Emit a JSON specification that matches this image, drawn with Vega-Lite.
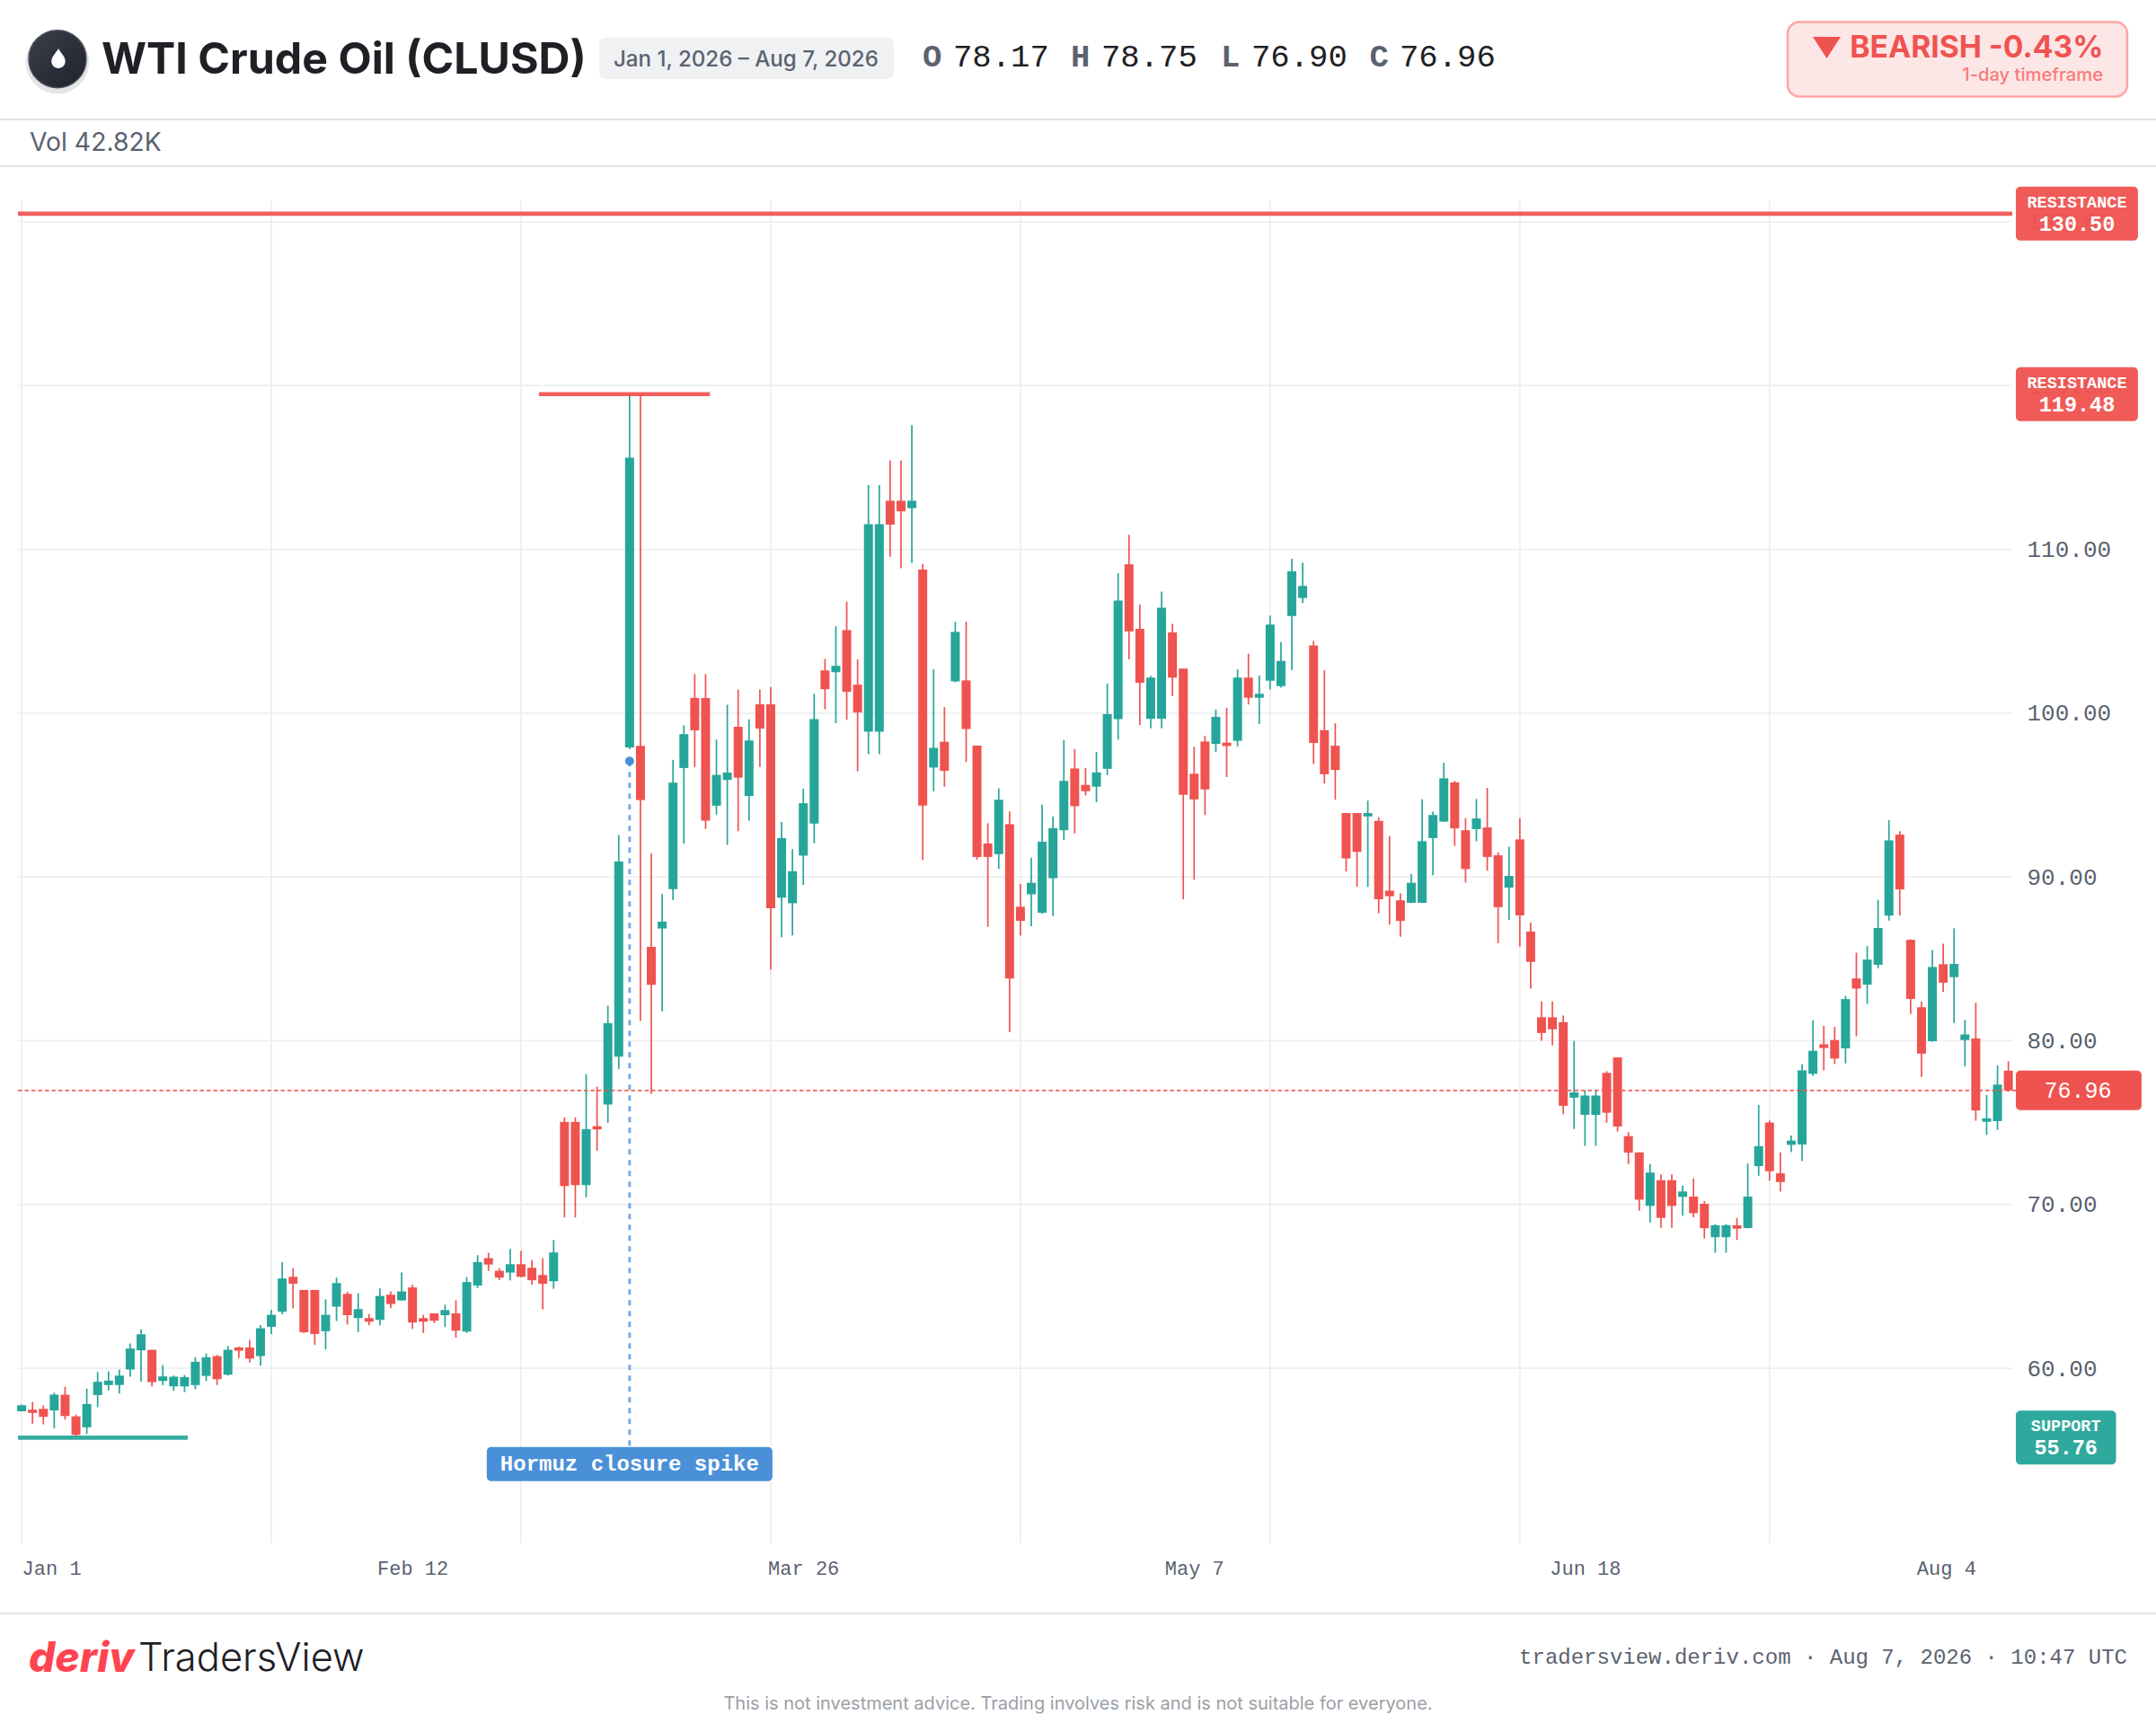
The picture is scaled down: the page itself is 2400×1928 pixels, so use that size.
{"$schema":"https://vega.github.io/schema/vega-lite/v6.json","width":2400,"height":1928,"autosize":{"type":"none"},"padding":0,"background":"#ffffff","config":{"view":{"stroke":null}},
"datasets":{
"candles":[
{"index":0,"open":57.37,"high":57.78,"low":57.37,"close":57.74},
{"index":1,"open":57.47,"high":57.94,"low":56.61,"close":57.27},
{"index":2,"open":57.52,"high":57.72,"low":56.57,"close":57.03},
{"index":3,"open":57.43,"high":58.51,"low":56.33,"close":58.38},
{"index":4,"open":58.38,"high":58.87,"low":56.86,"close":57.08},
{"index":5,"open":57.06,"high":57.17,"low":55.76,"close":55.93},
{"index":6,"open":56.39,"high":58.75,"low":55.99,"close":57.81},
{"index":7,"open":58.36,"high":59.77,"low":57.63,"close":59.17},
{"index":8,"open":58.97,"high":59.81,"low":58.65,"close":59.24},
{"index":9,"open":58.97,"high":59.92,"low":58.45,"close":59.55},
{"index":10,"open":59.92,"high":61.51,"low":59.48,"close":61.2},
{"index":11,"open":61.09,"high":62.37,"low":59.18,"close":62.07},
{"index":12,"open":61.12,"high":61.12,"low":58.89,"close":59.15},
{"index":13,"open":59.22,"high":60.19,"low":58.97,"close":59.5},
{"index":14,"open":58.89,"high":59.55,"low":58.62,"close":59.48},
{"index":15,"open":58.89,"high":59.59,"low":58.54,"close":59.46},
{"index":16,"open":58.97,"high":60.68,"low":58.71,"close":60.39},
{"index":17,"open":59.53,"high":60.9,"low":59.22,"close":60.67},
{"index":18,"open":60.74,"high":60.81,"low":58.97,"close":59.33},
{"index":19,"open":59.61,"high":61.36,"low":59.55,"close":61.12},
{"index":20,"open":61.27,"high":61.32,"low":60.61,"close":61.07},
{"index":21,"open":61.27,"high":61.73,"low":60.34,"close":60.59},
{"index":22,"open":60.74,"high":62.64,"low":60.15,"close":62.44},
{"index":23,"open":62.53,"high":63.57,"low":62.09,"close":63.26},
{"index":24,"open":63.45,"high":66.48,"low":63.3,"close":65.48},
{"index":25,"open":65.58,"high":66.11,"low":63.65,"close":65.16},
{"index":26,"open":64.78,"high":64.78,"low":62.13,"close":62.2},
{"index":27,"open":64.78,"high":64.78,"low":61.42,"close":62.09},
{"index":28,"open":62.26,"high":64.21,"low":61.14,"close":63.26},
{"index":29,"open":63.76,"high":65.53,"low":62.88,"close":65.2},
{"index":30,"open":64.54,"high":64.67,"low":62.66,"close":63.24},
{"index":31,"open":63.06,"high":64.58,"low":62.2,"close":63.61},
{"index":32,"open":63.06,"high":63.3,"low":62.62,"close":62.84},
{"index":33,"open":62.95,"high":64.87,"low":62.62,"close":64.41},
{"index":34,"open":64.49,"high":64.69,"low":63.67,"close":63.92},
{"index":35,"open":64.14,"high":65.84,"low":64.12,"close":64.69},
{"index":36,"open":64.93,"high":65.09,"low":62.4,"close":62.79},
{"index":37,"open":63.06,"high":63.26,"low":62.15,"close":62.84},
{"index":38,"open":63.35,"high":63.35,"low":62.75,"close":62.9},
{"index":39,"open":63.24,"high":63.88,"low":62.51,"close":63.55},
{"index":40,"open":63.35,"high":64.14,"low":61.87,"close":62.29},
{"index":41,"open":62.24,"high":65.57,"low":62.15,"close":65.26},
{"index":42,"open":65.05,"high":66.9,"low":64.89,"close":66.48},
{"index":43,"open":66.72,"high":67.05,"low":65.95,"close":66.33},
{"index":44,"open":65.95,"high":66.11,"low":65.38,"close":65.53},
{"index":45,"open":65.84,"high":67.29,"low":65.37,"close":66.35},
{"index":46,"open":66.35,"high":67.16,"low":65.55,"close":65.58},
{"index":47,"open":66.13,"high":66.61,"low":65.11,"close":65.37},
{"index":48,"open":65.69,"high":66.72,"low":63.59,"close":65.16},
{"index":49,"open":65.31,"high":67.83,"low":64.85,"close":67.07},
{"index":50,"open":75.04,"high":75.31,"low":69.2,"close":71.12},
{"index":51,"open":75.04,"high":75.31,"low":69.2,"close":71.18},
{"index":52,"open":71.18,"high":77.96,"low":70.43,"close":74.6},
{"index":53,"open":74.78,"high":77.19,"low":73.28,"close":74.58},
{"index":54,"open":76.1,"high":82.13,"low":74.98,"close":81.06},
{"index":55,"open":79.02,"high":92.56,"low":78.26,"close":90.94},
{"index":56,"open":97.91,"high":119.48,"low":97.8,"close":115.6},
{"index":57,"open":98.0,"high":119.48,"low":81.2,"close":94.69},
{"index":58,"open":85.73,"high":91.42,"low":76.75,"close":83.41},
{"index":59,"open":86.85,"high":88.95,"low":81.79,"close":87.27},
{"index":60,"open":89.26,"high":97.15,"low":88.59,"close":95.75},
{"index":61,"open":96.65,"high":99.25,"low":92.03,"close":98.72},
{"index":62,"open":100.93,"high":102.39,"low":96.71,"close":98.95},
{"index":63,"open":100.93,"high":102.39,"low":92.93,"close":93.43},
{"index":64,"open":94.35,"high":98.39,"low":93.8,"close":96.23},
{"index":65,"open":95.92,"high":100.51,"low":91.95,"close":96.37},
{"index":66,"open":99.17,"high":101.44,"low":92.79,"close":96.06},
{"index":67,"open":94.94,"high":99.62,"low":93.43,"close":98.33},
{"index":68,"open":100.54,"high":101.44,"low":96.71,"close":99.06},
{"index":69,"open":100.54,"high":101.6,"low":84.33,"close":88.09},
{"index":70,"open":88.73,"high":93.35,"low":86.32,"close":92.37},
{"index":71,"open":88.39,"high":91.7,"low":86.43,"close":90.35},
{"index":72,"open":91.3,"high":95.39,"low":89.51,"close":94.5},
{"index":73,"open":93.26,"high":101.18,"low":92.06,"close":99.64},
{"index":74,"open":102.61,"high":103.31,"low":100.23,"close":101.46},
{"index":75,"open":102.5,"high":105.3,"low":99.39,"close":102.89},
{"index":76,"open":105.07,"high":106.81,"low":99.59,"close":101.3},
{"index":77,"open":101.74,"high":103.28,"low":96.45,"close":100.04},
{"index":78,"open":98.86,"high":113.92,"low":97.49,"close":111.54},
{"index":79,"open":98.86,"high":113.92,"low":97.49,"close":111.54},
{"index":80,"open":112.97,"high":115.43,"low":109.55,"close":111.51},
{"index":81,"open":112.97,"high":115.43,"low":108.85,"close":112.32},
{"index":82,"open":112.52,"high":117.59,"low":109.16,"close":112.97},
{"index":83,"open":108.77,"high":109.11,"low":91.03,"close":94.35},
{"index":84,"open":96.68,"high":102.67,"low":95.22,"close":97.88},
{"index":85,"open":98.25,"high":100.37,"low":95.5,"close":96.48},
{"index":86,"open":101.94,"high":105.58,"low":101.88,"close":104.96},
{"index":87,"open":102.0,"high":105.58,"low":97.01,"close":99.03},
{"index":88,"open":98.01,"high":98.01,"low":91.05,"close":91.22},
{"index":89,"open":92.04,"high":93.28,"low":86.95,"close":91.22},
{"index":90,"open":91.39,"high":95.41,"low":90.48,"close":94.71},
{"index":91,"open":93.22,"high":94.0,"low":80.52,"close":83.8},
{"index":92,"open":88.18,"high":89.57,"low":86.43,"close":87.32},
{"index":93,"open":88.94,"high":91.18,"low":86.99,"close":89.64},
{"index":94,"open":87.81,"high":94.41,"low":87.75,"close":92.15},
{"index":95,"open":89.92,"high":93.69,"low":87.62,"close":92.98},
{"index":96,"open":92.85,"high":98.36,"low":92.26,"close":95.86},
{"index":97,"open":96.62,"high":97.81,"low":92.65,"close":94.32},
{"index":98,"open":95.62,"high":96.64,"low":94.97,"close":95.23},
{"index":99,"open":95.51,"high":97.64,"low":94.56,"close":96.38},
{"index":100,"open":96.6,"high":101.81,"low":96.21,"close":99.94},
{"index":101,"open":99.64,"high":108.55,"low":98.38,"close":106.88},
{"index":102,"open":109.09,"high":110.89,"low":103.28,"close":104.99},
{"index":103,"open":105.15,"high":106.62,"low":99.27,"close":101.85},
{"index":104,"open":99.66,"high":102.28,"low":99.07,"close":102.17},
{"index":105,"open":99.66,"high":107.42,"low":99.07,"close":106.43},
{"index":106,"open":104.93,"high":105.45,"low":101.05,"close":102.17},
{"index":107,"open":102.72,"high":102.72,"low":88.64,"close":95.02},
{"index":108,"open":96.3,"high":97.94,"low":89.83,"close":94.73},
{"index":109,"open":98.27,"high":98.62,"low":93.78,"close":95.34},
{"index":110,"open":98.12,"high":100.22,"low":97.62,"close":99.77},
{"index":111,"open":98.2,"high":100.33,"low":96.1,"close":97.99},
{"index":112,"open":98.31,"high":102.67,"low":97.97,"close":102.17},
{"index":113,"open":102.17,"high":103.63,"low":100.53,"close":100.94},
{"index":114,"open":100.94,"high":102.3,"low":99.33,"close":101.18},
{"index":115,"open":101.98,"high":105.95,"low":101.44,"close":105.41},
{"index":116,"open":101.65,"high":104.34,"low":101.55,"close":103.19},
{"index":117,"open":105.93,"high":109.42,"low":102.63,"close":108.66},
{"index":118,"open":107.03,"high":109.2,"low":106.73,"close":107.77},
{"index":119,"open":104.13,"high":104.41,"low":96.9,"close":98.18},
{"index":120,"open":98.96,"high":102.61,"low":95.71,"close":96.27},
{"index":121,"open":98.01,"high":99.38,"low":94.71,"close":96.53},
{"index":122,"open":93.9,"high":93.9,"low":90.33,"close":91.13},
{"index":123,"open":93.9,"high":93.9,"low":89.39,"close":91.53},
{"index":124,"open":93.69,"high":94.66,"low":89.39,"close":93.9},
{"index":125,"open":93.42,"high":93.65,"low":87.77,"close":88.63},
{"index":126,"open":89.16,"high":92.5,"low":87.08,"close":88.82},
{"index":127,"open":88.57,"high":88.99,"low":86.35,"close":87.31},
{"index":128,"open":88.42,"high":90.17,"low":88.4,"close":89.64},
{"index":129,"open":88.42,"high":94.74,"low":88.4,"close":92.18},
{"index":130,"open":92.37,"high":93.99,"low":90.1,"close":93.78},
{"index":131,"open":93.38,"high":96.97,"low":93.36,"close":96.02},
{"index":132,"open":95.77,"high":95.86,"low":91.89,"close":92.96},
{"index":133,"open":92.85,"high":93.59,"low":89.66,"close":90.48},
{"index":134,"open":92.92,"high":94.76,"low":92.18,"close":93.57},
{"index":135,"open":93.02,"high":95.44,"low":90.38,"close":91.22},
{"index":136,"open":91.32,"high":91.51,"low":85.95,"close":88.15},
{"index":137,"open":89.35,"high":91.85,"low":87.37,"close":90.06},
{"index":138,"open":92.29,"high":93.59,"low":85.74,"close":87.65},
{"index":139,"open":86.66,"high":87.21,"low":83.18,"close":84.81},
{"index":140,"open":81.43,"high":82.4,"low":79.99,"close":80.47},
{"index":141,"open":81.43,"high":82.4,"low":79.71,"close":80.7},
{"index":142,"open":81.14,"high":81.54,"low":75.51,"close":76.02},
{"index":143,"open":76.52,"high":79.99,"low":74.61,"close":76.84},
{"index":144,"open":75.47,"high":76.96,"low":73.58,"close":76.65},
{"index":145,"open":75.47,"high":76.96,"low":73.58,"close":76.65},
{"index":146,"open":78.03,"high":78.14,"low":74.99,"close":75.6},
{"index":147,"open":78.98,"high":78.98,"low":74.44,"close":74.76},
{"index":148,"open":74.17,"high":74.42,"low":72.47,"close":73.16},
{"index":149,"open":73.18,"high":73.18,"low":69.62,"close":70.29},
{"index":150,"open":69.91,"high":72.47,"low":68.9,"close":71.95},
{"index":151,"open":71.48,"high":71.84,"low":68.57,"close":69.18},
{"index":152,"open":71.48,"high":71.84,"low":68.57,"close":69.91},
{"index":153,"open":70.46,"high":71.15,"low":69.32,"close":70.79},
{"index":154,"open":70.48,"high":71.59,"low":69.22,"close":69.47},
{"index":155,"open":70.04,"high":70.2,"low":67.92,"close":68.55},
{"index":156,"open":68.0,"high":68.8,"low":67.05,"close":68.73},
{"index":157,"open":68.0,"high":68.8,"low":67.05,"close":68.73},
{"index":158,"open":68.73,"high":69.18,"low":67.83,"close":68.52},
{"index":159,"open":68.56,"high":72.5,"low":68.54,"close":70.48},
{"index":160,"open":72.34,"high":76.07,"low":71.75,"close":73.56},
{"index":161,"open":75.0,"high":75.13,"low":71.45,"close":72.03},
{"index":162,"open":71.9,"high":73.17,"low":70.79,"close":71.37},
{"index":163,"open":73.64,"high":74.21,"low":73.2,"close":73.9},
{"index":164,"open":73.66,"high":78.57,"low":72.64,"close":78.19},
{"index":165,"open":77.98,"high":81.25,"low":77.85,"close":79.38},
{"index":166,"open":79.78,"high":80.91,"low":78.19,"close":79.55},
{"index":167,"open":80.04,"high":80.84,"low":78.57,"close":78.91},
{"index":168,"open":79.53,"high":82.74,"low":78.61,"close":82.54},
{"index":169,"open":83.8,"high":85.37,"low":80.27,"close":83.18},
{"index":170,"open":83.42,"high":85.78,"low":82.25,"close":84.95},
{"index":171,"open":84.63,"high":88.6,"low":84.42,"close":86.88},
{"index":172,"open":87.64,"high":93.47,"low":87.33,"close":92.23},
{"index":173,"open":92.58,"high":92.79,"low":87.65,"close":89.24},
{"index":174,"open":86.16,"high":86.18,"low":81.63,"close":82.55},
{"index":175,"open":82.04,"high":82.4,"low":77.79,"close":79.21},
{"index":176,"open":79.97,"high":85.54,"low":79.93,"close":84.5},
{"index":177,"open":84.67,"high":85.92,"low":82.97,"close":83.54},
{"index":178,"open":83.88,"high":86.86,"low":81.08,"close":84.69},
{"index":179,"open":80.04,"high":81.27,"low":78.44,"close":80.38},
{"index":180,"open":80.14,"high":82.31,"low":75.11,"close":75.74},
{"index":181,"open":75.05,"high":76.68,"low":74.24,"close":75.26},
{"index":182,"open":75.09,"high":78.49,"low":74.56,"close":77.32},
{"index":183,"open":78.17,"high":78.75,"low":76.9,"close":76.96}
],
"levels":[
{"price":130.5,"kind":"RESISTANCE","label":"130.50","from":-0.34,"to":183.36},
{"price":119.48,"kind":"RESISTANCE","label":"119.48","from":47.65,"to":63.4},
{"price":55.76,"kind":"SUPPORT","label":"55.76","from":-0.34,"to":15.3}
],
"last":[{"price":76.96}],
"event":[{"index":56,"price":97.07,"labelPrice":54.14,"linePrice":55.2,"label":"Hormuz closure spike"}]
},
"layer":[
{"data":{"values":[{"price":60},{"price":70},{"price":80},{"price":90},{"price":100},{"price":110},{"price":120},{"price":130}]},
"mark":{"type":"rule","stroke":"#eeeff1","strokeWidth":1.8},
"encoding":{
"y":{"field":"price","type":"quantitative","scale":{"domain":[37.786,143.546],"nice":false,"zero":false,"padding":0},
"axis":{"orient":"right","offset":-144,"title":null,"domain":false,"ticks":false,"grid":false,"values":[60,70,80,90,100,110,120,130],"format":".2f","labelFont":"Liberation Mono","labelFontSize":26,"labelColor":"#5b6270","labelPadding":0,"labelAlign":"left","labelBaseline":"middle","labelOverlap":false}},
"x":{"datum":-0.34,"type":"quantitative","scale":{"domain":[-1.994,196.6],"nice":false,"zero":false,"padding":0},
"axis":{"orient":"bottom","offset":-176,"title":null,"domain":false,"ticks":false,"grid":false,"values":[0,36,72,108,144,180],"labelExpr":"['Jan 1','Feb 12','Mar 26','May 7','Jun 18','Aug 4'][datum.value/36]","labelFont":"Liberation Mono","labelFontSize":22,"labelColor":"#5b6270","labelPadding":0,"labelBaseline":"alphabetic","labelOverlap":false,"labelFlush":false,"labelAlign":{"condition":[{"test":"datum.value==0","value":"left"},{"test":"datum.value==180","value":"right"}],"value":"center"}}},
"x2":{"datum":183.36}}},
{"data":{"values":[{"index":0},{"index":23},{"index":46},{"index":69},{"index":92},{"index":115},{"index":138},{"index":161}]},
"mark":{"type":"rule","stroke":"#eeeff1","strokeWidth":1.8},
"encoding":{"x":{"field":"index","type":"quantitative"},"y":{"datum":131.3,"type":"quantitative"},"y2":{"datum":49.3}}},
{"data":{"name":"candles"},"mark":{"type":"rule","strokeWidth":1.7},
"encoding":{"x":{"field":"index","type":"quantitative"},"y":{"field":"low","type":"quantitative"},"y2":{"field":"high"},
"color":{"condition":{"test":"datum.close>=datum.open","value":"#26a69a"},"value":"#ef5350"}}},
{"data":{"name":"candles"},"mark":{"type":"bar","size":10},
"encoding":{"x":{"field":"index","type":"quantitative"},"y":{"field":"open","type":"quantitative"},"y2":{"field":"close"},
"color":{"condition":{"test":"datum.close>=datum.open","value":"#26a69a"},"value":"#ef5350"}}},
{"data":{"name":"levels"},"mark":{"type":"rule","strokeWidth":4.6,"opacity":0.92},
"encoding":{"x":{"field":"from","type":"quantitative"},"x2":{"field":"to"},"y":{"field":"price","type":"quantitative"},
"color":{"field":"kind","type":"nominal","scale":{"domain":["RESISTANCE","SUPPORT"],"range":["#ef5350","#26a69a"]},"legend":null}}},
{"data":{"name":"last"},"mark":{"type":"rule","stroke":"#ef5350","strokeWidth":1.6,"strokeDash":[4.5,3],"opacity":0.9},
"encoding":{"x":{"datum":-0.34,"type":"quantitative"},"x2":{"datum":183.69},"y":{"field":"price","type":"quantitative"}}},
{"data":{"name":"event"},"mark":{"type":"rule","stroke":"#4a90d9","strokeWidth":3,"strokeDash":[6,6],"opacity":0.75},
"encoding":{"x":{"field":"index","type":"quantitative"},"y":{"field":"price","type":"quantitative"},"y2":{"field":"linePrice"}}},
{"data":{"name":"event"},"mark":{"type":"point","filled":true,"shape":"circle","size":100,"color":"#4a90d9","opacity":1},
"encoding":{"x":{"field":"index","type":"quantitative"},"y":{"field":"price","type":"quantitative"}}},
{"data":{"name":"event"},"mark":{"type":"rect","width":318,"height":38,"cornerRadius":5,"fill":"#4a90d9"},
"encoding":{"x":{"field":"index","type":"quantitative"},"y":{"field":"labelPrice","type":"quantitative"}}},
{"data":{"name":"event"},"mark":{"type":"text","font":"Liberation Mono","fontWeight":"bold","fontSize":24,"fill":"#ffffff","align":"center","baseline":"middle"},
"encoding":{"x":{"field":"index","type":"quantitative"},"y":{"field":"labelPrice","type":"quantitative"},"text":{"field":"label"}}},
{"data":{"name":"levels"},"transform":[{"filter":"datum.kind=='RESISTANCE'"}],"mark":{"type":"rect","height":60,"cornerRadius":5,"fill":"#ef5350","opacity":0.96},
"encoding":{"x":{"datum":183.69,"type":"quantitative"},"x2":{"datum":194.94},"y":{"field":"price","type":"quantitative"}}},
{"data":{"name":"levels"},"transform":[{"filter":"datum.kind=='SUPPORT'"}],"mark":{"type":"rect","height":60,"cornerRadius":5,"fill":"#26a69a","opacity":0.96},
"encoding":{"x":{"datum":183.69,"type":"quantitative"},"x2":{"datum":192.92},"y":{"field":"price","type":"quantitative"}}},
{"data":{"name":"levels"},"transform":[{"filter":"datum.kind=='RESISTANCE'"}],"mark":{"type":"text","font":"Liberation Mono","fontWeight":"bold","fontSize":18.5,"fill":"#ffffff","dy":-12.5,"align":"center","baseline":"middle"},
"encoding":{"x":{"datum":189.32,"type":"quantitative"},"y":{"field":"price","type":"quantitative"},"text":{"field":"kind"}}},
{"data":{"name":"levels"},"transform":[{"filter":"datum.kind=='RESISTANCE'"}],"mark":{"type":"text","font":"Liberation Mono","fontWeight":"bold","fontSize":23.5,"fill":"#ffffff","dy":12,"align":"center","baseline":"middle"},
"encoding":{"x":{"datum":189.32,"type":"quantitative"},"y":{"field":"price","type":"quantitative"},"text":{"field":"label"}}},
{"data":{"name":"levels"},"transform":[{"filter":"datum.kind=='SUPPORT'"}],"mark":{"type":"text","font":"Liberation Mono","fontWeight":"bold","fontSize":18.5,"fill":"#ffffff","dy":-13,"align":"center","baseline":"middle"},
"encoding":{"x":{"datum":188.3,"type":"quantitative"},"y":{"field":"price","type":"quantitative"},"text":{"field":"kind"}}},
{"data":{"name":"levels"},"transform":[{"filter":"datum.kind=='SUPPORT'"}],"mark":{"type":"text","font":"Liberation Mono","fontWeight":"bold","fontSize":23.5,"fill":"#ffffff","dy":11.5,"align":"center","baseline":"middle"},
"encoding":{"x":{"datum":188.3,"type":"quantitative"},"y":{"field":"price","type":"quantitative"},"text":{"field":"label"}}},
{"data":{"name":"last"},"mark":{"type":"rect","height":44,"cornerRadius":5,"fill":"#ef5350"},
"encoding":{"x":{"datum":183.69,"type":"quantitative"},"x2":{"datum":195.27},"y":{"field":"price","type":"quantitative"}}},
{"data":{"name":"last"},"mark":{"type":"text","font":"Liberation Mono","fontSize":25,"fill":"#ffffff","align":"center","baseline":"middle"},
"encoding":{"x":{"datum":189.4,"type":"quantitative"},"y":{"field":"price","type":"quantitative"},"text":{"field":"price","type":"quantitative","format":".2f"}}},
{"data":{"values":[{"text":"header"}]},"mark":{"type":"rule","stroke":"#e2e3e8","strokeWidth":2.2},"encoding":{"x":{"value":0},"x2":{"value":2400},"y":{"value":133}}},
{"data":{"values":[{"text":"vol"}]},"mark":{"type":"rule","stroke":"#e2e3e8","strokeWidth":2.2},"encoding":{"x":{"value":0},"x2":{"value":2400},"y":{"value":185}}},
{"data":{"values":[{"text":"footer"}]},"mark":{"type":"rule","stroke":"#e2e3e8","strokeWidth":2.2},"encoding":{"x":{"value":0},"x2":{"value":2400},"y":{"value":1796}}},
{"data":{"values":[{"text":"icon"}]},"mark":{"type":"point","filled":true,"shape":"circle","size":5000,"fill":"#000000","opacity":0.1,"stroke":null},"encoding":{"x":{"value":64},"y":{"value":69}}},
{"data":{"values":[{"text":"icon"}]},"mark":{"type":"point","filled":true,"shape":"circle","size":4096,"opacity":1,"fill":{"gradient":"linear","x1":0,"y1":0,"x2":1,"y2":1,"stops":[{"offset":0,"color":"#3a404c"},{"offset":1,"color":"#1e222a"}]},"stroke":"#4a505c","strokeWidth":1.5},"encoding":{"x":{"value":64},"y":{"value":65.7}}},
{"data":{"values":[{"text":"drop"}]},"mark":{"type":"point","filled":true,"shape":"M0,-1C0.2,-0.6 0.7,-0.2 0.7,0.3A0.7,0.7 0 1 1 -0.7,0.3C-0.7,-0.2 -0.2,-0.6 0,-1Z","size":484,"fill":"#ffffff","opacity":1},"encoding":{"x":{"value":65},"y":{"value":65}}},
{"data":{"values":[{"text":"WTI Crude Oil (CLUSD)"}]},"mark":{"type":"text","font":"Inter","fontWeight":700,"fontSize":48.3,"fill":"#1e2025","align":"left","baseline":"alphabetic"},"encoding":{"x":{"value":113},"y":{"value":81.7},"text":{"field":"text"}}},
{"data":{"values":[{"text":"chip"}]},"mark":{"type":"rect","fill":"#f0f1f3","cornerRadius":8},"encoding":{"x":{"value":667},"x2":{"value":995},"y":{"value":42},"y2":{"value":88}}},
{"data":{"values":[{"text":"Jan 1, 2026 – Aug 7, 2026"}]},"mark":{"type":"text","font":"Inter","fontWeight":500,"fontSize":24.1,"fill":"#5b6270","align":"left","baseline":"alphabetic"},"encoding":{"x":{"value":683},"y":{"value":73.5},"text":{"field":"text"}}},
{"data":{"values":[{"text":"O"}]},"mark":{"type":"text","font":"Liberation Mono","fontWeight":"bold","fontSize":35.6,"fill":"#5b6270","align":"left","baseline":"alphabetic"},"encoding":{"x":{"value":1027},"y":{"value":74},"text":{"field":"text"}}},
{"data":{"values":[{"text":"H"}]},"mark":{"type":"text","font":"Liberation Mono","fontWeight":"bold","fontSize":35.6,"fill":"#5b6270","align":"left","baseline":"alphabetic"},"encoding":{"x":{"value":1192},"y":{"value":74},"text":{"field":"text"}}},
{"data":{"values":[{"text":"L"}]},"mark":{"type":"text","font":"Liberation Mono","fontWeight":"bold","fontSize":35.6,"fill":"#5b6270","align":"left","baseline":"alphabetic"},"encoding":{"x":{"value":1359},"y":{"value":74},"text":{"field":"text"}}},
{"data":{"values":[{"text":"C"}]},"mark":{"type":"text","font":"Liberation Mono","fontWeight":"bold","fontSize":35.6,"fill":"#5b6270","align":"left","baseline":"alphabetic"},"encoding":{"x":{"value":1524.5},"y":{"value":74},"text":{"field":"text"}}},
{"data":{"values":[{"text":"78.17"}]},"mark":{"type":"text","font":"Liberation Mono","fontSize":35.6,"fill":"#1e2025","align":"left","baseline":"alphabetic"},"encoding":{"x":{"value":1061},"y":{"value":74},"text":{"field":"text"}}},
{"data":{"values":[{"text":"78.75"}]},"mark":{"type":"text","font":"Liberation Mono","fontSize":35.6,"fill":"#1e2025","align":"left","baseline":"alphabetic"},"encoding":{"x":{"value":1226},"y":{"value":74},"text":{"field":"text"}}},
{"data":{"values":[{"text":"76.90"}]},"mark":{"type":"text","font":"Liberation Mono","fontSize":35.6,"fill":"#1e2025","align":"left","baseline":"alphabetic"},"encoding":{"x":{"value":1393},"y":{"value":74},"text":{"field":"text"}}},
{"data":{"values":[{"text":"76.96"}]},"mark":{"type":"text","font":"Liberation Mono","fontSize":35.6,"fill":"#1e2025","align":"left","baseline":"alphabetic"},"encoding":{"x":{"value":1558},"y":{"value":74},"text":{"field":"text"}}},
{"data":{"values":[{"text":"badge"}]},"mark":{"type":"rect","fill":"#fde6e6","stroke":"#ffa5a5","strokeWidth":2.5,"cornerRadius":13},"encoding":{"x":{"value":1990},"x2":{"value":2368},"y":{"value":24.5},"y2":{"value":107.5}}},
{"data":{"values":[{"text":"triangle"}]},"mark":{"type":"point","filled":true,"shape":"M-1,-0.78L1,-0.78L0,0.78Z","size":961,"fill":"#ef5350","opacity":1},"encoding":{"x":{"value":2033.5},"y":{"value":53}}},
{"data":{"values":[{"text":"BEARISH -0.43%"}]},"mark":{"type":"text","font":"Inter","fontWeight":700,"fontSize":33.7,"fill":"#ef5350","align":"right","baseline":"alphabetic"},"encoding":{"x":{"value":2341.5},"y":{"value":64},"text":{"field":"text"}}},
{"data":{"values":[{"text":"1-day timeframe"}]},"mark":{"type":"text","font":"Inter","fontWeight":500,"fontSize":20.2,"fill":"#f57c7a","align":"right","baseline":"alphabetic"},"encoding":{"x":{"value":2341},"y":{"value":90},"text":{"field":"text"}}},
{"data":{"values":[{"text":"Vol 42.82K"}]},"mark":{"type":"text","font":"Inter","fontWeight":400,"fontSize":28.3,"fill":"#5b6270","align":"left","baseline":"alphabetic"},"encoding":{"x":{"value":33},"y":{"value":167.7},"text":{"field":"text"}}},
{"data":{"values":[{"text":"deriv"}]},"mark":{"type":"text","font":"Inter","fontWeight":800,"fontStyle":"italic","fontSize":46,"fill":"#ff444f","align":"left","baseline":"alphabetic"},"encoding":{"x":{"value":32},"y":{"value":1861},"text":{"field":"text"}}},
{"data":{"values":[{"text":"TradersView"}]},"mark":{"type":"text","font":"Inter","fontWeight":300,"fontSize":43.5,"fill":"#1e2025","align":"left","baseline":"alphabetic"},"encoding":{"x":{"value":154},"y":{"value":1860},"text":{"field":"text"}}},
{"data":{"values":[{"text":"tradersview.deriv.com · Aug 7, 2026 · 10:47 UTC"}]},"mark":{"type":"text","font":"Liberation Mono","fontSize":24,"fill":"#5b6270","align":"right","baseline":"middle"},"encoding":{"x":{"value":2368},"y":{"value":1844.5},"text":{"field":"text"}}},
{"data":{"values":[{"text":"This is not investment advice. Trading involves risk and is not suitable for everyone."}]},"mark":{"type":"text","font":"Inter","fontSize":20,"fill":"#9aa0a8","align":"center","baseline":"middle"},"encoding":{"x":{"value":1200},"y":{"value":1896.5},"text":{"field":"text"}}}
]}
